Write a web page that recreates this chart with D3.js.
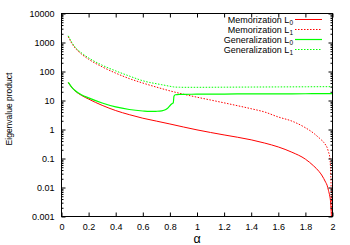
<!DOCTYPE html>
<html>
<head>
<meta charset="utf-8">
<script src="https://cdn.jsdelivr.net/npm/d3@7"></script>
<style>
body{margin:0;background:#fff;}
text{font-family:"Liberation Sans",Arial,sans-serif;}
</style>
</head>
<body>
<div id="container"></div>
<script>
// values
const alphaMem=[0.05,0.075,0.1,0.15,0.2,0.3,0.4,0.5,0.6,0.7,0.8,0.9,1.0,1.1,1.2,1.3,1.4,1.5,1.6,1.7,1.8,1.86,1.9,1.92,1.95,1.96,1.97,1.98,1.985,1.99,1.995];
const memL0=[42,28.5,21.5,14.8,11.2,6.8,4.5,3.25,2.45,1.95,1.55,1.22,0.97,0.79,0.65,0.54,0.44,0.34,0.25,0.165,0.095,0.056,0.036,0.027,0.015,0.012,0.008,0.005,0.0035,0.0015,0.0005];
const memL1=[1600,950,650,390,265,145,88,57,40,29,21.5,16.5,13,10.4,8.3,6.6,5.2,4.0,2.7,1.95,1.15,0.75,0.52,0.43,0.29,0.24,0.17,0.11,0.05,0.01,0.0008];

const alphaGen=[0.05,0.075,0.1,0.15,0.2,0.3,0.4,0.5,0.6,0.65,0.7,0.74,0.77,0.79,0.8,0.81,0.82,0.825,0.83,0.84,0.87,0.9,1.0,1.2,1.4,1.6,1.8,1.9,2.0];
const genL0=[42,29,22,15.5,12.3,8.2,6.0,4.9,4.35,4.2,4.25,4.4,4.9,5.8,6.6,7.4,8.0,8.3,14,15.8,16.2,16.3,16.5,16.7,16.9,17,17.1,17.2,17.3];
const genL1=[1700,1020,700,430,295,165,105,70,48,42,38,35,33,31.5,31,30.3,29.8,29.5,29.3,29,28.7,28.5,28.5,28.8,29.1,29.4,29.7,29.9,30];

const xTicks=[0,0.2,0.4,0.6,0.8,1,1.2,1.4,1.6,1.8,2];
const xTickLabels=["0","0.2","0.4","0.6","0.8","1","1.2","1.4","1.6","1.8","2"];
const yTicks=[0.001,0.01,0.1,1,10,100,1000,10000];
const yTickLabels=["0.001","0.01","0.1","1","10","100","1000","10000"];

const seriesNames=["Memorization","Memorization","Generalization","Generalization"];
const seriesSubs=["0","1","0","1"];

const width=350;
const height=245;

const x=d3.scaleLinear().domain([0,2]).range([61.5,332.5]);
const y=d3.scaleLog().domain([0.001,10000]).range([216.5,13.5]);

const svg=d3.select('#container')
  .append('svg')
  .attr('width',width)
  .attr('height',height);

svg.append('defs').append('clipPath').attr('id','plot')
  .append('rect')
  .attr('x',x(0)).attr('y',y(10000))
  .attr('width',x(2)-x(0)).attr('height',y(0.001)-y(10000));

const series=[
  {a:alphaMem,v:memL0,color:'#ff0000',dash:null,w:1},
  {a:alphaMem,v:memL1,color:'#ff0000',dash:'1.5,1.5',w:1},
  {a:alphaGen,v:genL0,color:'#00ff00',dash:null,w:1.2},
  {a:alphaGen,v:genL1,color:'#00ff00',dash:'1.5,1.5',w:1}
];

const line=d3.line()
  .x(d=>x(d[0]))
  .y(d=>y(d[1]))
  .curve(d3.curveMonotoneX);

svg.append('g').attr('clip-path','url(#plot)')
  .selectAll('path')
  .data(series)
  .enter()
  .append('path')
  .attr('d',s=>line(s.a.map((a,i)=>[a,s.v[i]])))
  .attr('fill','none')
  .attr('stroke',s=>s.color)
  .attr('stroke-width',s=>s.w)
  .attr('stroke-dasharray',s=>s.dash);

// axes, ticks pointing inward
const fontSize=9;
const styleAxis=g=>{
  g.select('.domain').remove();
  g.attr('font-size',fontSize).attr('font-family','"Liberation Sans",Arial,sans-serif');
};

svg.append('g')
  .attr('transform',`translate(0,${y(0.001)})`)
  .call(d3.axisBottom(x).tickValues(xTicks).tickFormat((d,i)=>xTickLabels[i]).tickSizeInner(-4).tickSizeOuter(0).tickPadding(7))
  .call(styleAxis);

svg.append('g')
  .attr('transform',`translate(0,${y(10000)})`)
  .call(d3.axisTop(x).tickValues(xTicks).tickFormat('').tickSizeInner(-4).tickSizeOuter(0))
  .call(styleAxis);

svg.append('g')
  .attr('transform',`translate(${x(0)},0)`)
  .call(d3.axisLeft(y).tickValues(yTicks).tickFormat((d,i)=>yTickLabels[i]).tickSizeInner(-4).tickSizeOuter(0).tickPadding(7))
  .call(styleAxis);

svg.append('g')
  .attr('transform',`translate(${x(2)},0)`)
  .call(d3.axisRight(y).tickValues(yTicks).tickFormat('').tickSizeInner(-4).tickSizeOuter(0))
  .call(styleAxis);

const minor=y.ticks().filter(t=>!yTicks.some(m=>Math.abs(m-t)/t<1e-6));
svg.append('g')
  .attr('transform',`translate(${x(0)},0)`)
  .call(d3.axisLeft(y).tickValues(minor).tickFormat('').tickSizeInner(-2).tickSizeOuter(0))
  .call(styleAxis);
svg.append('g')
  .attr('transform',`translate(${x(2)},0)`)
  .call(d3.axisRight(y).tickValues(minor).tickFormat('').tickSizeInner(-2).tickSizeOuter(0))
  .call(styleAxis);

svg.append('rect')
  .attr('x',x(0)).attr('y',y(10000))
  .attr('width',x(2)-x(0)).attr('height',y(0.001)-y(10000))
  .attr('fill','none')
  .attr('stroke','#000')
  .attr('stroke-width',1);

// axis titles
svg.append('text')
  .attr('x',197).attr('y',243)
  .attr('text-anchor','middle')
  .attr('font-size',12.5)
  .text('α');

svg.append('text')
  .attr('transform','translate(12,109) rotate(-90)')
  .attr('text-anchor','middle')
  .attr('font-size',8.5)
  .text('Eigenvalue product');

// legend
const legend=svg.append('g');
series.forEach((s,i)=>{
  const ly=19.5+i*10;
  const t=legend.append('text')
    .attr('x',293).attr('y',ly+3)
    .attr('text-anchor','end')
    .attr('font-size',fontSize);
  t.append('tspan').text(seriesNames[i]+' L');
  t.append('tspan').attr('dy',2.5).attr('font-size',6.5).text(seriesSubs[i]);
  legend.append('line')
    .attr('x1',295).attr('x2',322)
    .attr('y1',ly).attr('y2',ly)
    .attr('stroke',s.color)
    .attr('stroke-width',s.w)
    .attr('stroke-dasharray',s.dash);
});
</script>
</body>
</html>
